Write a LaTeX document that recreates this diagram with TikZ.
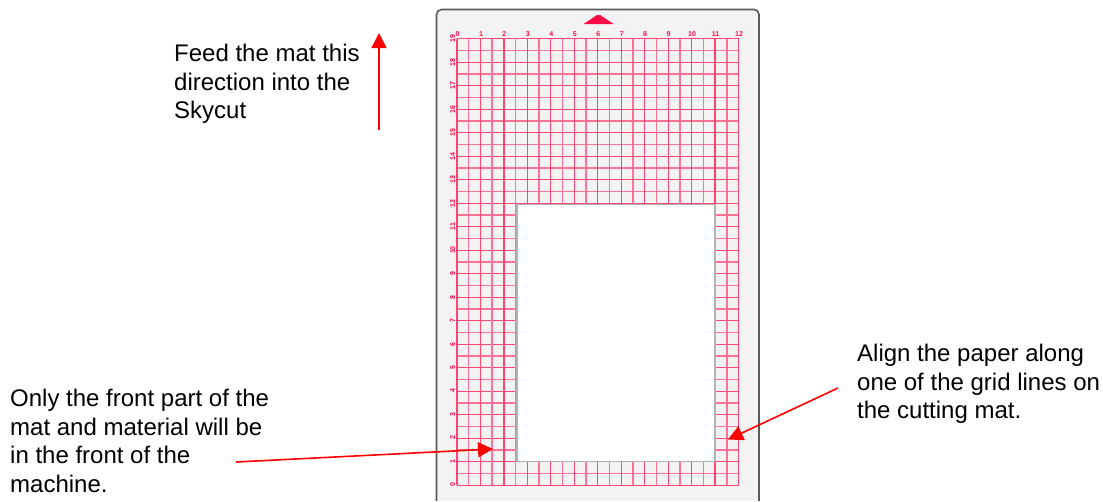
\documentclass[tikz,border=0pt]{standalone}
\usepackage{fontspec}
\setmainfont{Liberation Sans}
\usetikzlibrary{arrows.meta}
\definecolor{matfill}{HTML}{F3F3F3}
\definecolor{matedge}{HTML}{595959}
\definecolor{gridmain}{HTML}{FF4672}
\definecolor{gridsoft}{HTML}{FF7296}
\definecolor{redpink}{HTML}{FF0A46}
\tikzset{
  note/.style={inner sep=0pt,anchor=north west,align=left,font=\fontsize{24}{28.5}\selectfont,text=black},
  pointer/.style={draw=red,line width=1.6pt,-{Triangle[length=15pt,width=15pt]},shorten >=0pt},
  matbody/.style={draw=matedge,line width=1.6pt,fill=matfill,rounded corners=5pt},
  mainline/.style={draw=gridmain,line width=1.2pt},
  softline/.style={draw=gridsoft,line width=1.5pt},
  window/.style={draw=black!30,line width=1.6pt,fill=white},
  ruler/.style={inner sep=0pt,text=redpink,font=\fontsize{7}{7}\selectfont\bfseries}
}
\begin{document}
\begin{tikzpicture}[x=1pt,y=-1pt]
\useasboundingbox (0,0) rectangle (1103,501);
% mat
\draw[matbody] (436.5,560) -- (436.5,9.5) -- (759,9.5) -- (759,560);
\fill[white] (420,501) rectangle (780,520);
% grid
\foreach \i in {0,...,38}{
  \pgfmathsetmacro{\yy}{38.8+\i*11.745}
  \pgfmathtruncatemacro{\isodd}{mod(\i,2)}
  \ifnum\isodd=1 \draw[softline] (457,\yy) -- (738.5,\yy); \fi
  \ifnum\isodd=0 \draw[mainline] (457,\yy) -- (738.5,\yy); \fi
}
\foreach \i in {0,...,24}{
  \pgfmathsetmacro{\xx}{457+\i*11.73}
  \pgfmathtruncatemacro{\isodd}{mod(\i,2)}
  \ifnum\isodd=1 \draw[softline] (\xx,38.8) -- (\xx,485); \fi
  \ifnum\isodd=0 \draw[mainline] (\xx,38.8) -- (\xx,485); \fi
}
% paper
\draw[window] (517,204.5) rectangle (715,461.5);
% feed mark
\fill[redpink] (583.5,24) -- (597,15) -- (600,15) -- (613.5,24) -- cycle;
% rulers
\foreach \n in {0,...,12}{
  \pgfmathsetmacro{\xx}{457.5+\n*23.46}
  \node[ruler] (top\n) at (\xx,34) {\n};
}
\foreach \n in {0,...,19}{
  \pgfmathsetmacro{\yy}{485-\n*23.49}
  \node[ruler,rotate=90] (side\n) at (452.8,\yy) {\n};
}
% notes
\node[note] (feed) at (174,44) {Feed the mat this\\direction into the\\Skycut};
\node[note] (only) at (10,389) {Only the front part of the\\mat and material will be\\in the front of the\\machine.};
\node[note] (align) at (857,344) {Align the paper along\\one of the grid lines on\\the cutting mat.};
% connectors
\coordinate (feedS) at (379,130);
\coordinate (feedE) at (379,33);
\coordinate (onlyS) at (236,462);
\coordinate (onlyE) at (493,449);
\coordinate (alignS) at (838,388);
\coordinate (alignE) at (728,439.5);
\draw[pointer] (feedS) -- (feedE);
\draw[pointer] (onlyS) -- (onlyE);
\draw[pointer] (alignS) -- (alignE);
\end{tikzpicture}
\end{document}
